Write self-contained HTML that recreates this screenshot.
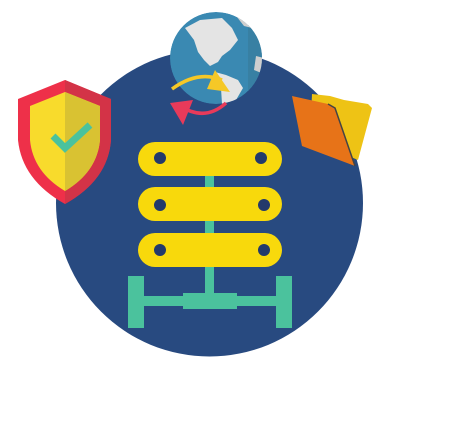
<!DOCTYPE html><html><head><style>body{margin:0;background:#fff}</style></head><body>
<svg width="467" height="430" viewBox="0 0 467 430" xmlns="http://www.w3.org/2000/svg">
<defs><clipPath id="g"><circle cx="216" cy="58" r="46"/></clipPath></defs>
<circle cx="209.5" cy="203" r="153.5" fill="#284a80"/>
<rect x="205" y="170" width="9" height="130" fill="#4bc29d"/>
<rect x="128" y="276" width="16" height="52" fill="#4bc29d"/>
<rect x="276" y="276" width="16" height="52" fill="#4bc29d"/>
<rect x="140" y="296" width="140" height="10" fill="#4bc29d"/>
<rect x="183" y="293" width="54" height="16" fill="#4bc29d"/>
<g fill="#f8d90c">
<rect x="138" y="142" width="144" height="34" rx="17"/>
<rect x="138" y="187" width="144" height="34" rx="17"/>
<rect x="138" y="233" width="144" height="34" rx="17"/>
</g>
<g fill="#233a6b">
<circle cx="160" cy="158" r="6"/><circle cx="261" cy="158" r="6"/>
<circle cx="160" cy="205" r="6"/><circle cx="264" cy="205" r="6"/>
<circle cx="160" cy="250" r="6"/><circle cx="264" cy="250" r="6"/>
</g>
<path d="M65 80 L111 99 L111 140 Q108 180 65 204 Q22 180 18 140 L18 99 Z" fill="#ee3049"/>
<path d="M65 80 L111 99 L111 140 Q108 180 65 204 Z" fill="#d33347"/>
<path d="M65 92 L100 106 L100 140 Q97 172 65 191 Q33 172 30 140 L30 106 Z" fill="#f8db2c"/>
<path d="M65 92 L100 106 L100 140 Q97 172 65 191 Z" fill="#d9c232"/>
<path d="M53 136 L65 148 L90 125" stroke="#4bc29d" stroke-width="7" fill="none"/>
<g clip-path="url(#g)">
<circle cx="216" cy="58" r="46" fill="#3a89b2"/>
<rect x="248" y="0" width="30" height="120" fill="#3880a3"/>
<path d="M185 28 L200 20 L222 18 L232 28 L238 40 L230 50 L222 56 L218 62 L210 66 L204 60 L198 52 L194 40 Z" fill="#e4e4e4"/>
<path d="M215 72 L226 75 L238 80 L243 88 L236 100 L222 104 L221 88 Z" fill="#e4e4e4"/>
<path d="M233 12 L250 16 L252 28 L244 26Z" fill="#cfcfcf"/>
<path d="M256 56 L264 58 L264 74 L254 70Z" fill="#cfcfcf"/>
</g>
<path d="M172 89 Q198 70 222 80" stroke="#f5c827" stroke-width="3.5" fill="none"/>
<path d="M215 70 L230 92 L207 89Z" fill="#f5c827"/>
<path d="M226 103 Q205 122 180 106" stroke="#e83a5a" stroke-width="3.5" fill="none"/>
<path d="M170 103 L193 100 L183 125Z" fill="#e83a5a"/>
<path d="M312 94 L330 96 L344 100 L368 104 L372 108 L358 160 L310 140Z" fill="#eec315"/>
<path d="M292 96 L328 104 L335 108 L355 166 L302 146Z" fill="#e77318"/>
<path d="M328 104 L335 108 L355 166" stroke="#444" stroke-width="1.5" fill="none"/>
</svg>
</body></html>
